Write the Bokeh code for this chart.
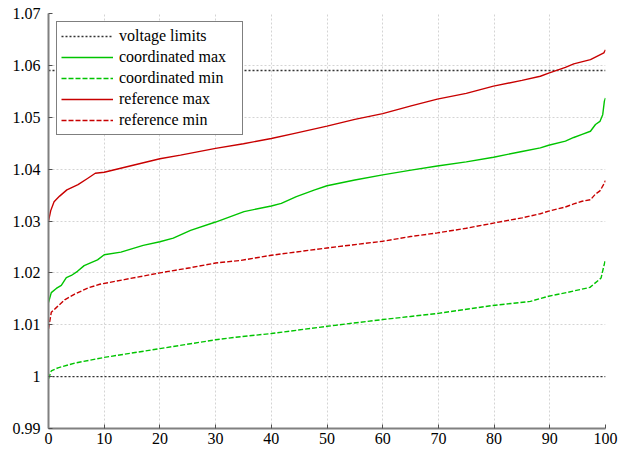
from bokeh.plotting import figure
from bokeh.models import Range1d, FixedTicker, CustomJSTickFormatter, Legend, LegendItem
from bokeh.embed import file_html
from bokeh.resources import INLINE

# ---- data ----
limit_x = [0, 100]
limit_low = [1.0, 1.0]
limit_high = [1.059, 1.059]

ref_max_x = [0, 0.4, 1, 2, 3.3, 5.3, 7, 8.4, 10, 15, 20, 23.7, 30, 35, 40, 44.2, 50, 55, 60,
             65.1, 69.8, 75, 79.9, 85, 88.3, 89.8, 92.8, 94.3, 97.3, 99.7, 100]
ref_max_y = [1.0300, 1.0320, 1.0337, 1.0348, 1.0360, 1.0370, 1.0382, 1.0392, 1.0394, 1.0407,
             1.0420, 1.0427, 1.0440, 1.0449, 1.0459, 1.0469, 1.0483, 1.0496, 1.0507,
             1.0522, 1.0535, 1.0546, 1.0560, 1.0571, 1.0579, 1.0585, 1.0596, 1.0603,
             1.0611, 1.0624, 1.0630]

coord_max_x = [0, 0.5, 1.4, 2.3, 3.2, 4.1, 5.2, 6.4, 8.8, 10, 13, 17, 20, 22.4, 25.5, 30,
               35.1, 40, 41.8, 44.5, 47.8, 50, 55, 60, 65.1, 69.8, 75, 79.9, 85, 88.3,
               89.8, 92.8, 94.3, 95.8, 97.3, 98.2, 99, 99.5, 99.8, 100]
coord_max_y = [1.0143, 1.0162, 1.0170, 1.0176, 1.0191, 1.0195, 1.0203, 1.0214, 1.0225,
               1.0235, 1.0240, 1.0253, 1.0260, 1.0267, 1.0282, 1.0298, 1.0318, 1.0329,
               1.0334, 1.0347, 1.0360, 1.0368, 1.0379, 1.0389, 1.0398, 1.0406, 1.0414,
               1.0423, 1.0434, 1.0441, 1.0446, 1.0454, 1.0461, 1.0467, 1.0473, 1.0486,
               1.0492, 1.0505, 1.0531, 1.0537]

ref_min_x = [0, 0.5, 1.4, 2.9, 4.7, 7.1, 9.2, 13.6, 20, 25.5, 30, 34.5, 40, 50, 60, 65,
             69.8, 75, 79.9, 85, 88.3, 89.8, 92.8, 94.3, 95.8, 97.3, 98.2, 99, 99.7, 100]
ref_min_y = [1.0092, 1.0124, 1.0133, 1.0148, 1.0159, 1.0171, 1.0178, 1.0187, 1.0200,
             1.0210, 1.0219, 1.0224, 1.0234, 1.0248, 1.0261, 1.0270, 1.0277, 1.0286,
             1.0296, 1.0306, 1.0314, 1.0319, 1.0327, 1.0333, 1.0338, 1.0341, 1.0352,
             1.0358, 1.0371, 1.0378]

coord_min_x = [0, 0.5, 1.7, 4.7, 10, 20, 30, 34.5, 40, 50, 60, 65, 70, 79.6, 86.5, 89.8,
               93, 97.2, 99.2, 99.7, 100]
coord_min_y = [0.9996, 1.0011, 1.0017, 1.0026, 1.0037, 1.0054, 1.0071, 1.0077, 1.0083,
               1.0097, 1.0110, 1.0116, 1.0122, 1.0137, 1.0145, 1.0155, 1.0162, 1.0172,
               1.0190, 1.0213, 1.0226]

x_ticks = [0, 10, 20, 30, 40, 50, 60, 70, 80, 90, 100]
y_ticks = [0.99, 1.0, 1.01, 1.02, 1.03, 1.04, 1.05, 1.06, 1.07]

series_labels = ["voltage limits", "coordinated max", "coordinated min",
                 "reference max", "reference min"]

GREEN = "#00c400"
RED = "#c80000"
FONT = "Liberation Serif"

p = figure(width=622, height=448, output_backend="svg", toolbar_location=None,
           x_range=Range1d(0, 100), y_range=Range1d(0.99, 1.07),
           min_border_left=48, min_border_right=17, min_border_top=13, min_border_bottom=20)
p.outline_line_color = None
p.background_fill_color = "white"
p.border_fill_color = "white"

for ax in (p.xaxis[0], p.yaxis[0]):
    ax.axis_line_color = "#808080"
    ax.axis_line_width = 2
    ax.major_tick_in = 4
    ax.major_tick_out = 0
    ax.minor_tick_in = 0
    ax.minor_tick_out = 0
    ax.major_tick_line_color = "#505050"
    ax.major_label_text_font = FONT
    ax.major_label_text_font_size = "16px"
    ax.major_label_text_color = "black"

p.xaxis[0].ticker = FixedTicker(ticks=x_ticks)
p.yaxis[0].ticker = FixedTicker(ticks=y_ticks)
p.xaxis[0].major_label_standoff = 4
p.yaxis[0].major_label_standoff = 8
p.yaxis[0].formatter = CustomJSTickFormatter(code="return (Math.round(tick*100)/100).toString();")
p.xaxis[0].formatter = CustomJSTickFormatter(code="return Math.round(tick).toString();")

p.xgrid.ticker = FixedTicker(ticks=x_ticks)
p.ygrid.ticker = FixedTicker(ticks=y_ticks)
for g in (p.xgrid[0], p.ygrid[0]):
    g.grid_line_color = "#d4d4d4"
    g.grid_line_dash = "2 2"
    g.grid_line_width = 1

lim1 = p.line(limit_x, limit_low, line_color="#333333", line_width=1.4, line_dash="2 2")
p.line(limit_x, limit_high, line_color="#333333", line_width=1.4, line_dash="2 2")
cmax = p.line(coord_max_x, coord_max_y, line_color=GREEN, line_width=1.4)
cmin = p.line(coord_min_x, coord_min_y, line_color=GREEN, line_width=1.4, line_dash="5 2")
rmax = p.line(ref_max_x, ref_max_y, line_color=RED, line_width=1.4)
rmin = p.line(ref_min_x, ref_min_y, line_color=RED, line_width=1.4, line_dash="5 2")

legend = Legend(items=[LegendItem(label=series_labels[0], renderers=[lim1]),
                       LegendItem(label=series_labels[1], renderers=[cmax]),
                       LegendItem(label=series_labels[2], renderers=[cmin]),
                       LegendItem(label=series_labels[3], renderers=[rmax]),
                       LegendItem(label=series_labels[4], renderers=[rmin])],
                location="top_left")
legend.margin = 8
legend.padding = 4
legend.spacing = 1
legend.glyph_width = 52
legend.glyph_height = 20
legend.label_height = 20
legend.label_width = 119
legend.label_standoff = 6
legend.label_text_font = FONT
legend.label_text_font_size = "16px"
legend.label_text_color = "black"
legend.border_line_color = "black"
legend.border_line_width = 1.5
legend.background_fill_color = "white"
legend.background_fill_alpha = 1
p.add_layout(legend, "center")

open("out.html", "w").write(file_html(p, INLINE))
